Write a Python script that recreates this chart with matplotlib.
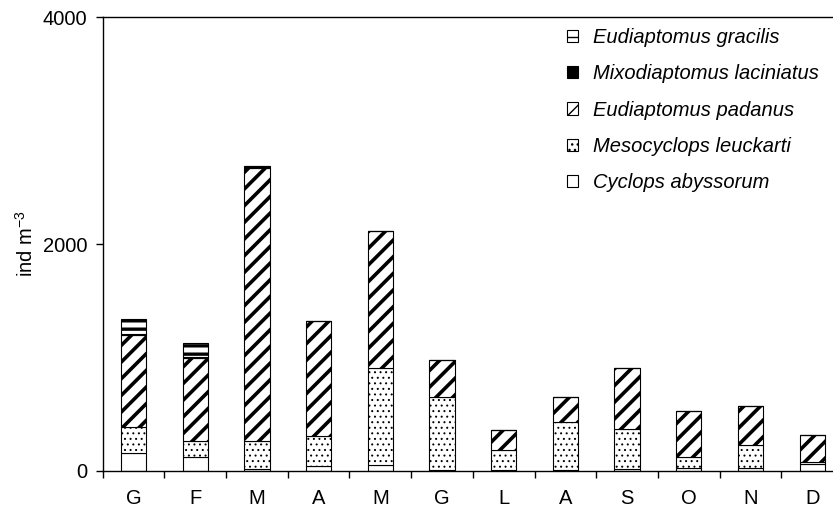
import matplotlib
matplotlib.use('Agg')
import matplotlib.pyplot as plt
import numpy as np

months = ['G', 'F', 'M', 'A', 'M', 'G', 'L', 'A', 'S', 'O', 'N', 'D']

# ind m-3
cyclops = [157, 117, 10, 42, 52, 5, 5, 3, 12, 25, 19, 55]
mesocyclops = [224, 143, 253, 265, 850, 647, 176, 429, 352, 96, 209, 23]
padanus = [816, 731, 2412, 1016, 1213, 325, 174, 220, 544, 404, 339, 235]
mixodiaptomus = [12, 12, 18, 0, 0, 0, 0, 0, 0, 0, 0, 0]
gracilis = [130, 125, 0, 0, 0, 0, 0, 0, 0, 0, 0, 0]

species = ['Cyclops abyssorum', 'Mesocyclops leuckarti', 'Eudiaptomus padanus',
           'Mixodiaptomus laciniatus', 'Eudiaptomus gracilis']
series = [cyclops, mesocyclops, padanus, mixodiaptomus, gracilis]
faces = ['white', 'white', 'white', 'black', 'white']
hatches = [None, '...', '//', None, '--']
hatch_lw = [1.0, 0.7, 2.6, 1.0, 2.4]

plt.rcParams['font.family'] = ['Liberation Sans', 'DejaVu Sans']
plt.rcParams['mathtext.default'] = 'regular'


def main():
    fig = plt.figure(figsize=(8.33, 5.11), dpi=100)
    ax = fig.add_axes([102.7 / 833, 40.5 / 511, 740.3 / 833, 453 / 511])

    x = np.arange(len(months))
    bottom = np.zeros(len(months))
    handles = []
    for name, vals, fc, h, hl in zip(species, series, faces, hatches, hatch_lw):
        with plt.rc_context({'hatch.linewidth': hl, 'hatch.color': 'black'}):
            bars = ax.bar(x, vals, 0.41, bottom=bottom, color=fc, edgecolor='black',
                          linewidth=0.8, hatch=h, label=name)
        handles.append(bars)
        bottom = bottom + np.array(vals)

    ax.set_xlim(-0.5, len(months) - 0.5)
    ax.set_ylim(0, 4000)
    ax.set_yticks([0, 2000, 4000])
    ax.set_xticks(x)
    ax.set_xticklabels(months)
    ax.set_xticks(np.arange(len(months) + 1) - 0.5, minor=True)
    ax.tick_params(axis='x', which='major', length=0, pad=13, labelsize=14.5)
    ax.tick_params(axis='x', which='minor', length=5, width=1)
    ax.tick_params(axis='y', length=5, width=1, pad=6, labelsize=14.5)
    ax.spines['right'].set_visible(False)
    for s in ['left', 'bottom', 'top']:
        ax.spines[s].set_linewidth(1)

    ax.set_ylabel('ind m$^{-3}$', fontsize=14.5, labelpad=4)

    ax.legend(handles[::-1], species[::-1], loc='upper left',
              bbox_to_anchor=(567 / 833, 1 - 28 / 511), bbox_transform=fig.transFigure,
              frameon=False, borderpad=0, borderaxespad=0,
              handlelength=0.55, handleheight=0.55, handletextpad=0.75,
              labelspacing=0.86, prop={'style': 'italic', 'size': 14.5})

    plt.savefig('out.png', dpi=100)


if __name__ == '__main__':
    main()
